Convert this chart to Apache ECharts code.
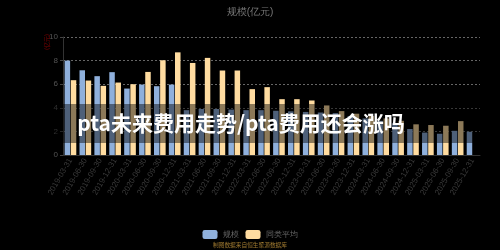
<!DOCTYPE html>
<html><head><meta charset="utf-8">
<script src="https://cdn.jsdelivr.net/npm/echarts@6/dist/echarts.min.js"></script>
<style>html,body{margin:0;padding:0;background:#000;}#c{width:500px;height:250px;}</style>
</head><body><div id="c"></div>
<script>
const categories = ["2019-03-31","2019-06-30","2019-09-30","2019-12-31","2020-03-31","2020-06-30","2020-09-30","2020-12-31","2021-03-31","2021-06-30","2021-09-30","2021-12-31","2022-03-31","2022-06-30","2022-09-30","2022-12-31","2023-03-31","2023-06-30","2023-09-30","2023-12-31","2024-03-31","2024-06-30","2024-09-30","2024-12-31","2025-03-31","2025-06-30","2025-09-30","2025-12-31"];
const scaleValues = [8.0,7.18,6.68,7.02,5.63,5.97,5.83,5.97,3.8,3.9,3.9,3.85,3.8,3.8,3.75,3.7,3.65,3.6,3.55,3.3,3.1,2.9,2.7,2.2,1.9,1.8,2.05,1.97];
const avgValues = [6.34,6.31,5.86,6.14,6.0,7.04,8.03,8.7,7.8,8.23,7.16,7.16,5.58,5.75,4.73,4.73,4.62,4.2,3.72,3.5,3.3,3.1,2.9,2.6,2.54,2.48,2.87,null];
const seriesNames = ["规模","同类平均"];
const yTicks = [0,2,4,6,8,10];
const topTitle = "规模(亿元)";
const overlayTitle = "pta未来费用走势/pta费用还会涨吗";
const footer = "制图数据来自恒生聚源数据库";
const yUnit = "(亿元)";

const chart = echarts.init(document.getElementById('c'), null, {renderer:'canvas'});
chart.setOption({
  backgroundColor:'#000',
  animation:false,
  title:{text:topTitle,left:'center',top:2,textStyle:{color:'#777',fontSize:10,fontWeight:'normal'}},
  legend:{data:seriesNames,left:'center',top:225,itemWidth:15,itemHeight:9,itemGap:7,
    textStyle:{color:'#666',fontSize:8}},
  grid:{left:63,right:20,top:37,bottom:95,containLabel:false},
  xAxis:{type:'category',data:categories,
    axisLine:{lineStyle:{color:'#333'}},axisTick:{show:false},
    axisLabel:{color:'#3a3a3a',fontSize:8,rotate:60,interval:0,margin:4}},
  yAxis:{type:'value',min:yTicks[0],max:yTicks[yTicks.length-1],interval:2,
    axisLine:{show:true,lineStyle:{color:'#333'}},axisTick:{show:true,length:3,lineStyle:{color:'#444'}},
    axisLabel:{color:'#555',fontSize:8,margin:5},
    splitLine:{lineStyle:{color:'#666',type:[2,2]}}},
  series:[
    {name:seriesNames[0],type:'bar',data:scaleValues,barWidth:5.5,barGap:'12%',itemStyle:{color:'#8fb0dc'}},
    {name:seriesNames[1],type:'bar',data:avgValues,barWidth:5.5,barGap:'12%',itemStyle:{color:'#ffdca0'}}
  ],
  graphic:[
    {type:'rect',z:100,shape:{x:0,y:104,width:500,height:39},style:{fill:'rgba(0,0,0,0.45)'}},
    {type:'text',z:101,x:241,y:123,style:{text:overlayTitle,fill:'#fff',align:'center',verticalAlign:'middle',
      font:'bold 21px "Noto Sans CJK SC", sans-serif',
      shadowColor:'rgba(0,0,0,0.8)',shadowBlur:4,shadowOffsetX:1,shadowOffsetY:1}},
    {type:'text',z:101,x:44,y:50,rotation:Math.PI/2,style:{text:yUnit,fill:'#8b0000',font:'6px "Noto Sans CJK SC", sans-serif'}},
    {type:'text',z:101,left:'center',top:242,style:{text:footer,fill:'#a07a30',font:'5.7px "Noto Sans CJK SC", sans-serif'}}
  ]
});
</script></body></html>
